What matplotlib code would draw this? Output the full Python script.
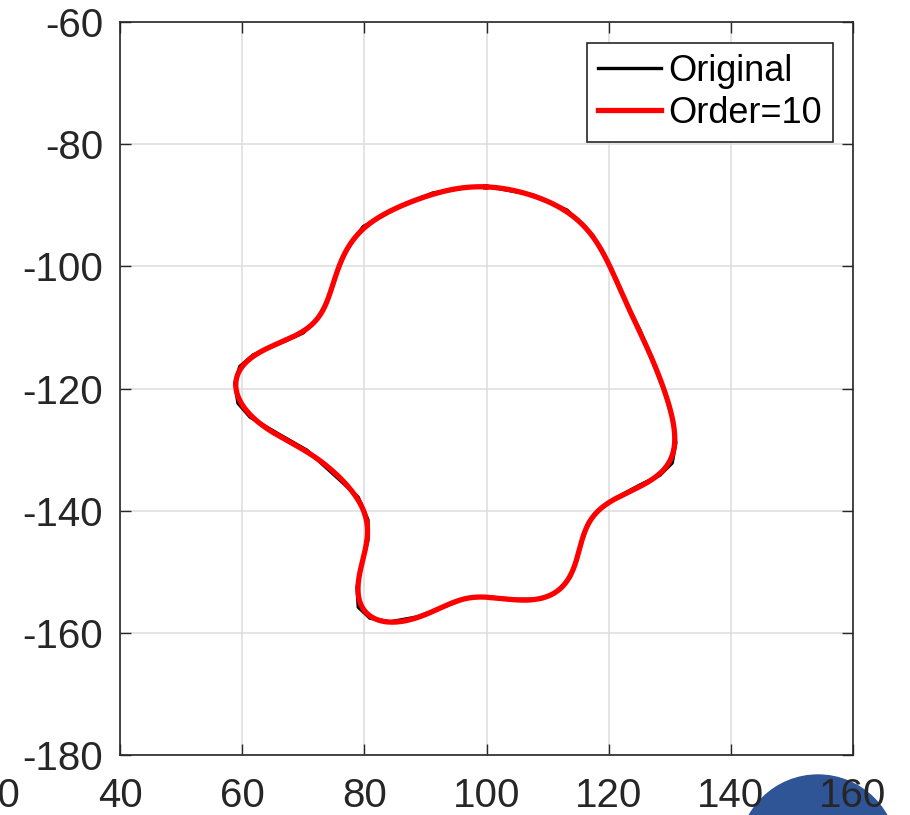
import numpy as np
import matplotlib
matplotlib.use("Agg")
import matplotlib.pyplot as plt
from matplotlib.patches import Ellipse

# contour, clockwise from the top
x_orig = [99.9, 107.6, 113.2, 117.4, 119.9, 122.4, 125.1, 127.3, 129.2, 130.5,
          131.0, 130.4, 128.4, 125.1, 121.4, 118.6, 116.6, 115.3, 114.8, 113.7,
          111.5, 108.8, 104.3, 100.1, 96.8, 92.9, 88.6, 84.2, 80.9, 79.0,
          78.8, 79.6, 80.6, 80.6, 79.0, 76.0, 70.6, 65.7, 61.3, 59.3,
          58.8, 59.6, 61.8, 66.2, 70.0, 72.2, 73.8, 75.5, 77.1, 79.8,
          85.8, 91.2, 97.3]
y_orig = [-86.9, -88.3, -90.8, -94.9, -99.5, -105.0, -110.4, -115.8, -120.7, -125.2,
          -128.9, -132.2, -134.2, -135.8, -137.8, -139.7, -142.0, -146.0, -148.1, -150.9,
          -153.3, -154.5, -154.5, -154.1, -154.3, -155.8, -157.4, -158.2, -157.6, -155.8,
          -152.5, -148.6, -144.8, -141.5, -137.8, -135.0, -130.1, -127.3, -124.7, -122.4,
          -119.1, -116.4, -114.5, -112.6, -110.9, -108.8, -106.0, -101.1, -97.3, -93.5,
          -90.2, -88.0, -87.0]
order = 10

xticks = [40, 60, 80, 100, 120, 140, 160]
yticks = [-180, -160, -140, -120, -100, -80, -60]

plt.rcParams['font.family'] = ['Liberation Sans', 'DejaVu Sans']
plt.rcParams['axes.unicode_minus'] = False
dark = '#262626'

# Fourier descriptor fit of the closed contour
z = np.array(x_orig) + 1j * np.array(y_orig)
z = np.append(z, z[0])
s = np.concatenate([[0], np.cumsum(np.abs(np.diff(z)))])
n = 1024
t = np.linspace(0, s[-1], n, endpoint=False)
zr = np.interp(t, s, z.real) + 1j * np.interp(t, s, z.imag)
c = np.fft.fft(zr)
k = np.fft.fftfreq(n, 1.0 / n)
c[np.abs(k) > order] = 0
zf = np.fft.ifft(c)
zf = np.append(zf, zf[0])

fig = plt.figure(figsize=(9.1, 8.15), dpi=100)
ax = fig.add_axes([120 / 910, 1 - 755 / 815, 733 / 910, 733 / 815])

ax.plot(z.real, z.imag, color='black', lw=2.4, label='Original')
ax.plot(zf.real, zf.imag, color='red', lw=3.8, label='Order=10')

ax.set_xlim(40, 160)
ax.set_ylim(-180, -60)
ax.set_xticks(xticks)
ax.set_yticks(yticks)
ax.grid(True, color='#dcdcdc', lw=1.1)
ax.set_axisbelow(True)
ax.tick_params(direction='in', length=8, width=1, colors=dark, labelsize=29,
               top=True, right=True, pad=12)
ax.tick_params(axis='x', pad=16)
for sp in ax.spines.values():
    sp.set_color(dark)
    sp.set_linewidth(1.2)

# cut-off tick label left of the axes
ax.annotate('20', xy=(-20 / 120, 0), xycoords='axes fraction',
            xytext=(0, -16), textcoords='offset points', ha='center', va='top',
            fontsize=29, color=dark, annotation_clip=False)

leg = ax.legend(loc='upper right', bbox_to_anchor=(0.9727, 0.9714), borderaxespad=0,
                fontsize=26, fancybox=False, framealpha=1, edgecolor=dark,
                handlelength=1.75, handletextpad=0.2, borderpad=0.3, labelspacing=0.2)
leg.get_frame().set_linewidth(1.2)

fig.patches.append(Ellipse((818 / 910, 1 - 854 / 815), 2 * 79 / 910, 2 * 79 / 815,
                           transform=fig.transFigure, color='#2f5597', zorder=-1))

fig.savefig('out.png', dpi=100)
